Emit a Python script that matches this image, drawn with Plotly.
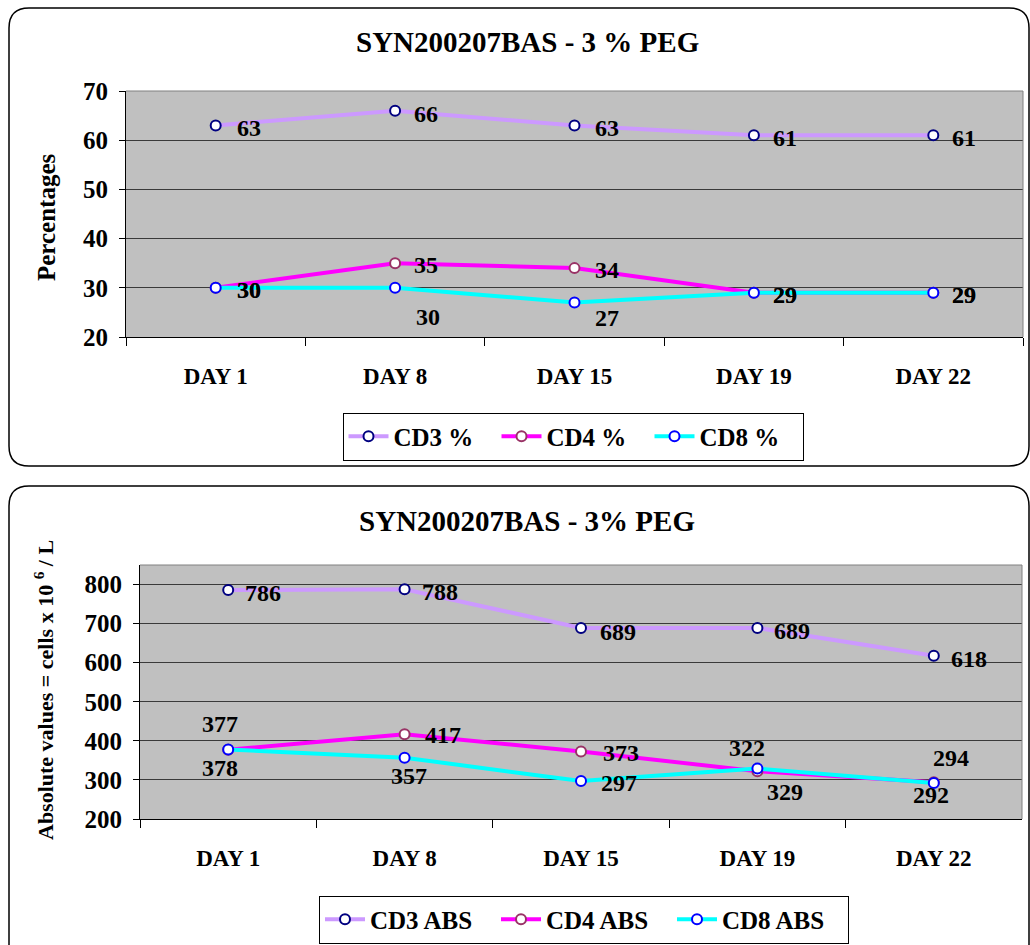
import plotly.graph_objects as go

# ---------------- data ----------------
days = ["DAY 1", "DAY 8", "DAY 15", "DAY 19", "DAY 22"]

cd3_pct = [63, 66, 63, 61, 61]
cd4_pct = [30, 35, 34, 29, 29]
cd8_pct = [30, 30, 27, 29, 29]

cd3_abs = [786, 788, 689, 689, 618]
cd4_abs = [377, 417, 373, 322, 294]
cd8_abs = [378, 357, 297, 329, 292]

title_top = "SYN200207BAS - 3 % PEG"
title_bot = "SYN200207BAS - 3% PEG"
ytitle_top = "Percentages"
ytitle_bot = "Absolute values = cells x 10 <sup>6</sup> / L"

# ---------------- styles ----------------
W, H = 1030, 945
FONT = "'Times New Roman', 'Liberation Serif', 'DejaVu Serif', serif"
C3, C4, C8 = "#CC99FF", "#FF00FF", "#00FFFF"
M3, M4, M8 = "#000080", "#993366", "#0000FF"

# label offsets in pixels (dx right, dy down) of label centre from point
off_top = {
    "cd3": [(33, 3), (31, 3), (32, 3), (31, 3), (31, 3)],
    "cd4": [(33, 2), (31, 2), (32, 2), (31, 2), (31, 2)],
    "cd8": [(33, 2), (33, 29), (32, 15), (31, 2), (31, 2)],
}
off_bot = {
    "cd3": [(35, 3), (35, 3), (37, 4), (35, 3), (35, 3)],
    "cd4": [(-8, -26), (38, 1), (40, 2), (-10, -23), (17, -24)],
    "cd8": [(-8, 19), (4, 18), (38, 2), (28, 23), (-3, 12)],
}


def px(x):
    return x / W


def py(y):
    return 1 - y / H


fig = go.Figure()

def add_series(name, xs, ys, lc, mc, xa, ya, legend):
    fig.add_trace(go.Scatter(
        x=xs, y=ys, name=name, mode="lines+markers",
        line=dict(color=lc, width=4),
        marker=dict(symbol="circle", size=10, color="white",
                    line=dict(color=mc, width=2)),
        xaxis=xa, yaxis=ya, legend=legend, hoverinfo="skip",
    ))

add_series("CD3 %", days, cd3_pct, C3, M3, "x", "y", "legend")
add_series("CD4 %", days, cd4_pct, C4, M4, "x", "y", "legend")
add_series("CD8 %", days, cd8_pct, C8, M8, "x", "y", "legend")
add_series("CD3 ABS", days, cd3_abs, C3, M3, "x2", "y2", "legend2")
add_series("CD4 ABS", days, cd4_abs, C4, M4, "x2", "y2", "legend2")
add_series("CD8 ABS", days, cd8_abs, C8, M8, "x2", "y2", "legend2")

annotations = []
label_font = dict(family=FONT, size=24, color="black", weight="bold")

def add_labels(vals, offs, xr, yr):
    for d, v, (dx, dy) in zip(days, vals, offs):
        annotations.append(dict(
            x=d, y=v, xref=xr, yref=yr, text=str(v), showarrow=False,
            xanchor="center", yanchor="middle", xshift=dx, yshift=-dy,
            font=label_font,
        ))

add_labels(cd3_pct, off_top["cd3"], "x", "y")
add_labels(cd4_pct, off_top["cd4"], "x", "y")
add_labels(cd8_pct, off_top["cd8"], "x", "y")
add_labels(cd3_abs, off_bot["cd3"], "x2", "y2")
add_labels(cd4_abs, off_bot["cd4"], "x2", "y2")
add_labels(cd8_abs, off_bot["cd8"], "x2", "y2")

# titles
annotations.append(dict(x=px(527), y=py(42), xref="paper", yref="paper",
                        text=title_top, showarrow=False, xanchor="center",
                        yanchor="middle",
                        font=dict(family=FONT, size=29, color="black", weight="bold")))
annotations.append(dict(x=px(527), y=py(521), xref="paper", yref="paper",
                        text=title_bot, showarrow=False, xanchor="center",
                        yanchor="middle",
                        font=dict(family=FONT, size=29, color="black", weight="bold")))
annotations.append(dict(x=px(46), y=py(217), xref="paper", yref="paper",
                        text=ytitle_top, showarrow=False, textangle=-90,
                        xanchor="center", yanchor="middle",
                        font=dict(family=FONT, size=25, color="black", weight="bold")))
annotations.append(dict(x=px(44), y=py(690), xref="paper", yref="paper",
                        text=ytitle_bot, showarrow=False, textangle=-90,
                        xanchor="center", yanchor="middle",
                        font=dict(family=FONT, size=22, color="black", weight="bold")))


def rounded(x0, y0, x1, y1, r):
    rx, ry = r / W, r / H
    X0, X1 = px(x0), px(x1)
    Y0, Y1 = py(y0), py(y1)  # Y0 top (larger), Y1 bottom
    return (f"M {X0+rx},{Y0} L {X1-rx},{Y0} Q {X1},{Y0} {X1},{Y0-ry} "
            f"L {X1},{Y1+ry} Q {X1},{Y1} {X1-rx},{Y1} "
            f"L {X0+rx},{Y1} Q {X0},{Y1} {X0},{Y1+ry} "
            f"L {X0},{Y0-ry} Q {X0},{Y0} {X0+rx},{Y0} Z")

shapes = [
    dict(type="path", xref="paper", yref="paper", path=rounded(9, 8, 1029, 466, 20),
         line=dict(color="black", width=1.5), layer="below"),
    dict(type="path", xref="paper", yref="paper", path=rounded(9, 486, 1029, 975, 20),
         line=dict(color="black", width=1.5), layer="below"),
]
for xr, yr in (("x", "y"), ("x2", "y2")):
    shapes.append(dict(type="line", xref=f"{xr} domain", yref=f"{yr} domain",
                       x0=0, x1=1, y0=1, y1=1, line=dict(color="#808080", width=1)))
    shapes.append(dict(type="line", xref=f"{xr} domain", yref=f"{yr} domain",
                       x0=1, x1=1, y0=0, y1=1, line=dict(color="#808080", width=1)))

xaxis_common = dict(
    type="category", range=[-0.5, 4.5], showline=True, linecolor="black", linewidth=1,
    ticks="outside", tickson="boundaries", ticklen=8, tickcolor="black",
    showgrid=False, zeroline=False, ticklabelstandoff=18, automargin=False,
    tickfont=dict(family=FONT, size=23, color="black", weight="bold"),
    fixedrange=True,
)
yaxis_common = dict(
    showline=True, linecolor="black", linewidth=1,
    ticks="outside", ticklen=6, tickcolor="black",
    showgrid=True, gridcolor="#3a3a3a", gridwidth=1, zeroline=False,
    ticklabelstandoff=6, automargin=False,
    tickfont=dict(family=FONT, size=25, color="black", weight="bold"),
    fixedrange=True,
)

legend_common = dict(
    orientation="h", bgcolor="white", bordercolor="black", borderwidth=1,
    font=dict(family=FONT, size=25, color="black", weight="bold"),
    xanchor="center", yanchor="middle", xref="paper", yref="paper",
    itemclick=False, itemdoubleclick=False, itemwidth=40,
)

fig.update_layout(
    width=W, height=H,
    margin=dict(l=0, r=0, t=0, b=0, pad=0, autoexpand=False),
    paper_bgcolor="white", plot_bgcolor="#C0C0C0",
    showlegend=True,
    xaxis=dict(domain=[px(126), px(1023)], anchor="y", **xaxis_common),
    yaxis=dict(domain=[py(337), py(91)], anchor="x", range=[20, 70],
               tick0=20, dtick=10, **yaxis_common),
    xaxis2=dict(domain=[px(140), px(1022)], anchor="y2", **xaxis_common),
    yaxis2=dict(domain=[py(819), py(565)], anchor="x2", range=[200, 850],
                tickvals=[200, 300, 400, 500, 600, 700, 800], **yaxis_common),
    legend=dict(x=px(573), y=py(436.5), entrywidth=98, **legend_common),
    legend2=dict(x=px(584), y=py(919.5), entrywidth=121, **legend_common),
    annotations=annotations,
    shapes=shapes,
)

fig.write_html("out.html")
